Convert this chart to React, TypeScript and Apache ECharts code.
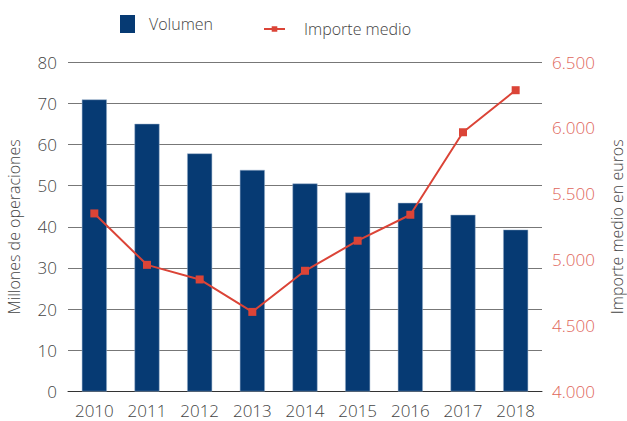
import React, { useEffect, useRef } from "react";
import * as echarts from "echarts";

const years = ["2010", "2011", "2012", "2013", "2014", "2015", "2016", "2017", "2018"];
const volumen = [70.9, 65.0, 57.8, 53.8, 50.5, 48.3, 45.8, 42.9, 39.3];
const importeMedio = [5351, 4961, 4850, 4604, 4916, 5144, 5341, 5967, 6286];

const FONT = "'Open Sans', sans-serif";
const BLUE = "#063a73";
const RED = "#db4437";

const fmtThousands = (v: number) =>
  `${Math.floor(v / 1000)}.${String(Math.round(v % 1000)).padStart(3, "0")}`;

export default function App() {
  const ref = useRef<HTMLDivElement>(null);
  useEffect(() => {
    const chart = echarts.init(ref.current!, undefined, { renderer: "svg" });
    chart.setOption({
      animation: false,
      textStyle: { fontFamily: FONT, fontWeight: 300 },
      legend: [
        {
          data: ["Volumen"],
          left: 115,
          top: 10,
          itemWidth: 15,
          itemHeight: 18,
          icon: "rect",
          itemStyle: { borderWidth: 0 },
          textStyle: { fontSize: 16, color: "#444", fontFamily: FONT, fontWeight: 300, padding: [4, 0, 0, 9] },
        },
        {
          data: ["Importe medio"],
          left: 258,
          top: 16,
          itemWidth: 21,
          itemHeight: 7,
          textStyle: { fontSize: 16, color: "#444", fontFamily: FONT, fontWeight: 300, padding: [4, 0, 0, 14] },
        },
      ],
      grid: { left: 68, right: 85, top: 62, bottom: 29.5, containLabel: false, outerBoundsMode: "none" },
      xAxis: {
        type: "category",
        data: years,
        axisTick: { show: false },
        axisLine: { lineStyle: { color: "#333", width: 1 } },
        axisLabel: { fontSize: 17, lineHeight: 18, color: "#444", fontFamily: FONT, fontWeight: 300, margin: 10 },
      },
      yAxis: [
        {
          type: "value",
          min: 0,
          max: 80,
          interval: 10,
          name: "Millones de operaciones",
          nameLocation: "middle",
          nameRotate: 90,
          nameGap: 46,
          nameTextStyle: { fontSize: 16, color: "#444", fontFamily: FONT, fontWeight: 300 },
          axisLine: { show: false },
          axisTick: { show: false },
          axisLabel: { fontSize: 17, color: "#444", fontFamily: FONT, fontWeight: 300, margin: 11 },
          splitLine: { lineStyle: { color: "#777", width: 1 } },
        },
        {
          type: "value",
          min: 4000,
          max: 6500,
          interval: 500,
          position: "right",
          name: "Importe medio en euros",
          nameLocation: "middle",
          nameRotate: 90,
          nameGap: 66,
          nameTextStyle: { fontSize: 16, lineHeight: 18, color: "#444", fontFamily: FONT, fontWeight: 300 },
          axisLine: { show: false },
          axisTick: { show: false },
          axisLabel: {
            fontSize: 17,
            color: "#e0665b",
            fontFamily: FONT,
            fontWeight: 300,
            margin: 10,
            formatter: fmtThousands,
          },
          splitLine: { show: false },
        },
      ],
      series: [
        {
          name: "Volumen",
          type: "bar",
          data: volumen,
          barWidth: 25,
          itemStyle: { color: BLUE, borderColor: "#9db3cc", borderWidth: 0.5 },
        },
        {
          name: "Importe medio",
          type: "line",
          yAxisIndex: 1,
          data: importeMedio,
          symbol: "rect",
          symbolSize: 8,
          lineStyle: { color: RED, width: 2 },
          itemStyle: { color: RED },
        },
      ],
    });
    return () => chart.dispose();
  }, []);
  return (
    <div
      ref={ref}
      style={{ position: "absolute", left: 0, top: 0, width: 627, height: 421 }}
    />
  );
}
